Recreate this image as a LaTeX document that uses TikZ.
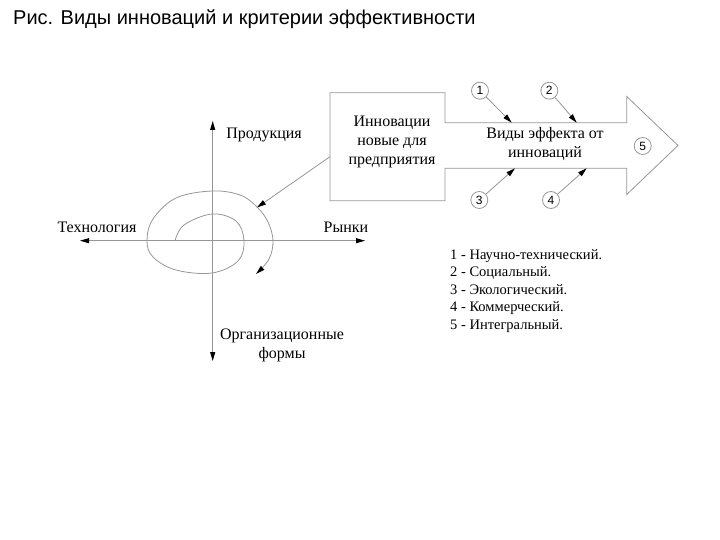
\documentclass[tikz,border=0pt]{standalone}
\usepackage{fontspec}
\setmainfont{Liberation Serif}
\newfontfamily\titlefont{Liberation Sans}
\usetikzlibrary{arrows.meta}
\pgfdeclarelayer{background}
\pgfdeclarelayer{foreground}
\pgfsetlayers{background,main,foreground}
\definecolor{linegray}{RGB}{150,150,150}
\tikzset{
  grayline/.style={draw=linegray,line width=0.8pt},
  pointer/.style={grayline,-{Triangle[length=9pt,width=5pt,color=black]}},
  axislabel/.style={font=\fontsize{16}{19}\selectfont,inner sep=0pt,align=center},
  numcircle/.style={circle,draw=linegray,line width=0.8pt,minimum size=17pt,inner sep=0pt,font=\titlefont\fontsize{12}{12}\selectfont}
}
\begin{document}
\begin{tikzpicture}[x=1pt,y=-1pt]
\useasboundingbox (0,0) rectangle (720,540);
\node[anchor=base west,inner sep=0pt,font=\titlefont\fontsize{20}{24}\selectfont] (title) at (13,25) {Рис. Виды инноваций и критерии эффективности};

% axes
\coordinate (o) at (212.7,240.7);
\coordinate (axtop) at (212.7,121);
\coordinate (axbot) at (212.7,361);
\coordinate (axleft) at (80,240.7);
\coordinate (axright) at (365,240.7);
\draw[pointer] (o) -- (axtop);
\draw[pointer] (o) -- (axbot);
\draw[pointer] (o) -- (axleft);
\draw[pointer] (o) -- (axright);
\node[axislabel] (prod) at (264,135) {Продукция};
\node[axislabel] (tech) at (97,227) {Технология};
\node[axislabel] (market) at (346,227) {Рынки};
\node[axislabel] (org) at (282,345) {Организационные\\формы};

% spiral
\begin{pgfonlayer}{background}
\draw[pointer] plot[smooth,tension=0.6] coordinates {(175,240.7) (184,225) (212,214) (236,221) (244,240.7) (238,261) (212,273) (176,270) (153,257) (147,240.7) (153,219) (176,198) (212,191) (240,195) (257,207) (268,222) (273,240.7) (269,259) (256,274)};
\end{pgfonlayer}

% big arrow
\coordinate (boxleft) at (330,156.7);
\coordinate (spiralhit) at (257,207.5);
\draw[grayline] (330,92.7) -- (445,92.7) -- (445,122.7) -- (626.7,122.7) -- (626.7,96.5)
  -- (678,145.5) -- (626.7,194.5) -- (626.7,168.3) -- (445,168.3) -- (445,200.7) -- (330,200.7) -- cycle;
\draw[pointer] (boxleft) -- (spiralhit);
\node[axislabel] (innov) at (392,141.7) {Инновации\\новые для\\предприятия};
\node[axislabel] (vidy) at (545,144) {Виды эффекта от\\инноваций};

% effect numbers
\node[numcircle] (c1) at (480,90.7) {1};
\node[numcircle] (c2) at (549.3,90.7) {2};
\node[numcircle] (c3) at (479.3,200) {3};
\node[numcircle] (c4) at (551,200) {4};
\node[numcircle] (c5) at (642.7,146) {5};
\coordinate (p1) at (511.7,122.7);
\coordinate (p2) at (576.7,122.7);
\coordinate (p3) at (515,168.3);
\coordinate (p4) at (586.7,168.3);
\draw[pointer] (c1) -- (p1);
\draw[pointer] (c2) -- (p2);
\draw[pointer] (c3) -- (p3);
\draw[pointer] (c4) -- (p4);

% legend
\node[anchor=north west,inner sep=0pt,align=left,font=\fontsize{14.5}{17.6}\selectfont] (legend) at (450,249)
  {1 - Научно-технический.\\2 - Социальный.\\3 - Экологический.\\4 - Коммерческий.\\5 - Интегральный.};
\end{tikzpicture}
\end{document}
